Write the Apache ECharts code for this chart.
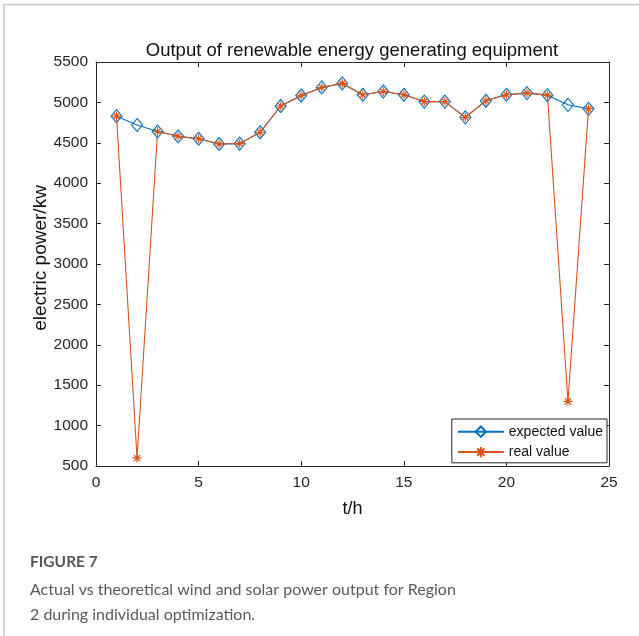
<!DOCTYPE html>
<html>
<head>
<meta charset="utf-8">
<script src="https://cdn.jsdelivr.net/npm/echarts@6/dist/echarts.min.js"></script>
<style>
html,body{margin:0;padding:0;background:#fff;}
#chart{width:639px;height:636px;}
</style>
</head>
<body>
<div id="chart"></div>
<script>
// ---- data ----
var hours = [1,2,3,4,5,6,7,8,9,10,11,12,13,14,15,16,17,18,19,20,21,22,23,24];
var expectedValue = [4830,4720,4640,4580,4550,4485,4490,4630,4955,5085,5185,5235,5095,5135,5095,5010,5010,4815,5020,5095,5115,5090,4970,4920];
var realValue = [4830,600,4640,4580,4550,4485,4490,4630,4955,5085,5185,5235,5095,5135,5095,5010,5010,4815,5020,5095,5115,5090,1300,4920];
var xTicks = [0,5,10,15,20,25];
var yTicks = [500,1000,1500,2000,2500,3000,3500,4000,4500,5000,5500];
var seriesNames = ['expected value','real value'];
var titleText = 'Output of renewable energy generating equipment';
var xName = 't/h';
var yName = 'electric power/kw';
var figLabel = 'FIGURE 7';
var captionLines = ['Actual vs theoretical wind and solar power output for Region','2 during individual optimization.'];

function pairs(xs, ys){ return xs.map(function(x,i){ return [x, ys[i]]; }); }

var BLUE = '#0072BD', ORANGE = '#D95319', AX = '#262626';
var FONT = 'Liberation Sans, Arial, sans-serif';
var CAP = 'Lato, Open Sans, sans-serif';
var star = 'path://M0,5L10,5M5,0L5,10M1.5,1.5L8.5,8.5M8.5,1.5L1.5,8.5';

var chart = echarts.init(document.getElementById('chart'), null, {renderer:'canvas'});

function axisCommon(extra){
  var o = {
    axisLine:{show:true, onZero:false, lineStyle:{color:AX, width:1}},
    axisTick:{show:true, inside:true, length:5, lineStyle:{color:AX, width:1}},
    splitLine:{show:false}
  };
  for (var k in extra) o[k] = extra[k];
  return o;
}

var option = {
  animation:false,
  backgroundColor:'#fff',
  title:{
    text:titleText, left:347, top:36, textAlign:'center',
    textStyle:{fontFamily:FONT, fontSize:18.5, fontWeight:'normal', color:'#111'}
  },
  grid:{left:96, top:62, right:30, bottom:170, containLabel:false},
  legend:{
    data:seriesNames, orient:'vertical', right:32, top:419,
    backgroundColor:'#fff', borderColor:AX, borderWidth:1,
    padding:[5,4,3,5], itemGap:5, itemWidth:46, itemHeight:13,
    textStyle:{fontFamily:FONT, fontSize:14, color:'#111', lineHeight:13}
  },
  xAxis:[
    axisCommon({type:'value', min:0, max:25, interval:5, position:'bottom',
      name:xName, nameLocation:'middle', nameGap:34, nameMoveOverlap:false,
      nameTextStyle:{fontFamily:FONT, fontSize:18, color:'#111'},
      axisLabel:{fontFamily:FONT, fontSize:15.5, color:AX, margin:9,
        formatter:function(v){ return xTicks.indexOf(v)>=0 ? String(v) : ''; }}}),
    axisCommon({type:'value', min:0, max:25, interval:5, position:'top', axisLabel:{show:false}})
  ],
  yAxis:[
    axisCommon({type:'value', min:500, max:5500, interval:500, position:'left',
      name:yName, nameLocation:'middle', nameGap:46, nameMoveOverlap:false,
      nameTextStyle:{fontFamily:FONT, fontSize:19, color:'#111', padding:[0,0,0,12]},
      axisLabel:{fontFamily:FONT, fontSize:15.5, color:AX, margin:8,
        formatter:function(v){ return yTicks.indexOf(v)>=0 ? String(v) : ''; }}}),
    axisCommon({type:'value', min:500, max:5500, interval:500, position:'right', axisLabel:{show:false}})
  ],
  series:[
    {
      name:seriesNames[0], type:'line', data:pairs(hours, expectedValue),
      symbol:'diamond', symbolSize:[11,13],
      lineStyle:{color:BLUE, width:1.1},
      itemStyle:{color:'none', borderColor:BLUE, borderWidth:1.1},
      z:2
    },
    {
      name:seriesNames[1], type:'line', data:pairs(hours, realValue),
      symbol:star, symbolSize:9,
      lineStyle:{color:ORANGE, width:1.1},
      itemStyle:{color:'none', borderColor:ORANGE, borderWidth:1.1},
      z:3
    }
  ],
  graphic:[
    {type:'line', shape:{x1:4, y1:4.5, x2:639, y2:4.5}, style:{stroke:'#c8c8c8', lineWidth:1.5}, silent:true},
    {type:'line', shape:{x1:4, y1:4, x2:4, y2:636}, style:{stroke:'#c8c8c8', lineWidth:1.5}, silent:true},
    {type:'text', left:30, top:554, style:{text:figLabel, fontFamily:CAP, fontSize:15.5, fontWeight:'bold', fill:'#555'}},
    {type:'text', left:30, top:582, style:{text:captionLines[0], fontFamily:CAP, fontSize:16, fill:'#5a5a5a'}},
    {type:'text', left:30, top:607, style:{text:captionLines[1], fontFamily:CAP, fontSize:16, fill:'#5a5a5a'}}
  ]
};
chart.setOption(option);
</script>
</body>
</html>
